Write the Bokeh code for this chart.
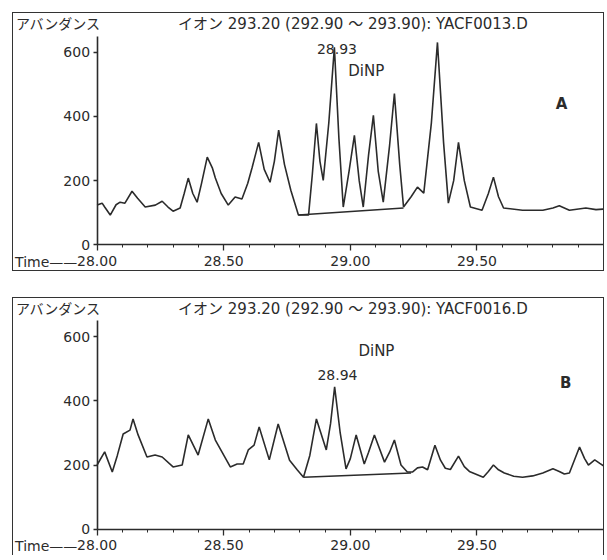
from bokeh.plotting import figure
from bokeh.models import Range1d, FixedTicker, Label, LinearAxis
from bokeh.layouts import column
from bokeh.embed import file_html
from bokeh.resources import INLINE

# ---------------- data ----------------
time_a = [28.000, 28.020, 28.030, 28.052, 28.075, 28.091, 28.110, 28.138, 28.160, 28.190,
          28.230, 28.257, 28.280, 28.300, 28.328, 28.344, 28.360, 28.378, 28.395, 28.412,
          28.435, 28.455, 28.467, 28.490, 28.518, 28.545, 28.572, 28.595, 28.612, 28.638,
          28.660, 28.683, 28.700, 28.717, 28.740, 28.765, 28.795, 28.835, 28.850, 28.866,
          28.880, 28.893, 28.915, 28.937, 28.955, 28.972, 28.995, 29.016, 29.035, 29.051,
          29.072, 29.091, 29.110, 29.130, 29.155, 29.174, 29.195, 29.210, 29.240, 29.265,
          29.290, 29.320, 29.344, 29.368, 29.387, 29.408, 29.427, 29.450, 29.474, 29.520,
          29.545, 29.565, 29.585, 29.605, 29.680, 29.760, 29.800, 29.825, 29.865, 29.930,
          29.970, 30.010]
abund_a = [124, 130, 118, 93, 125, 133, 130, 167, 145, 118,
           124, 136, 118, 105, 115, 160, 208, 160, 133, 190,
           273, 240, 208, 160, 124, 149, 143, 192, 240, 319,
           235, 195, 260, 357, 250, 170, 93, 93, 220, 378,
           260, 201, 380, 615, 330, 118, 230, 341, 200, 118,
           280, 403, 230, 133, 310, 471, 250, 118, 150, 180,
           161, 380, 630, 320, 130, 200, 319, 200, 118, 108,
           160, 211, 150, 115, 108, 108, 115, 122, 108, 115,
           110, 112]

time_b = [28.000, 28.030, 28.060, 28.080, 28.103, 28.130, 28.142, 28.162, 28.197, 28.229,
          28.257, 28.300, 28.336, 28.360, 28.399, 28.439, 28.467, 28.526, 28.553, 28.577,
          28.597, 28.620, 28.640, 28.680, 28.715, 28.760, 28.790, 28.815, 28.840, 28.866,
          28.905, 28.922, 28.938, 28.960, 28.983, 29.000, 29.023, 29.055, 29.072, 29.095,
          29.135, 29.155, 29.174, 29.200, 29.225, 29.245, 29.265, 29.285, 29.305, 29.334,
          29.356, 29.375, 29.395, 29.427, 29.450, 29.470, 29.525, 29.545, 29.565, 29.585,
          29.608, 29.645, 29.680, 29.720, 29.760, 29.800, 29.825, 29.845, 29.865, 29.905,
          29.925, 29.940, 29.965, 29.985, 30.005]
abund_b = [200, 241, 178, 230, 297, 309, 344, 294, 225, 231,
           225, 194, 200, 294, 231, 344, 278, 194, 203, 203,
           247, 262, 319, 216, 328, 215, 185, 162, 230, 344,
           247, 330, 444, 300, 188, 220, 294, 203, 240, 294,
           209, 240, 278, 200, 178, 178, 191, 194, 185, 262,
           215, 190, 186, 228, 195, 180, 162, 180, 200, 185,
           175, 165, 162, 166, 175, 188, 180, 172, 175, 256,
           220, 200, 216, 205, 195]

# integration baselines (start / end)
base_a_t = [28.795, 29.210]
base_a_v = [93, 115]
base_b_t = [28.815, 29.240]
base_b_v = [162, 175]

# peak annotations
peak_a = {"rt": "28.93", "t": 28.947, "v": 611, "name": "DiNP", "nt": 29.063, "nv": 541}
peak_b = {"rt": "28.94", "t": 28.949, "v": 481, "name": "DiNP", "nt": 29.103, "nv": 556}
panel_letters = ["A", "B"]
letter_pos = [(29.834, 438), (29.85, 456)]

titles = ["イオン 293.20 (292.90 ～ 293.90): YACF0013.D",
          "イオン 293.20 (292.90 ～ 293.90): YACF0016.D"]
y_label = "アバンダンス"
x_label = "Time——"

x_ticks = [28.0, 28.5, 29.0, 29.5]
x_tick_labels = ["28.00", "28.50", "29.00", "29.50"]
x_minor = [28.0 + 0.1 * i for i in range(21)]
y_ticks = [0, 200, 400, 600]

FONT = "DejaVu Sans, 'Noto Sans CJK JP', sans-serif"
INK = "#2b2b2b"


def make_panel(t, v, bt, bv, peak, title, letter, lpos, height, top_margin, styles):
    p = figure(width=592, height=height,
               x_range=Range1d(27.670, 30.0075), y_range=Range1d(-85.7, 720),
               x_axis_type=None, y_axis_type=None,
               output_backend="svg", toolbar_location=None,
               min_border=0, styles=styles)
    p.margin = (top_margin, 0, 0, 12)
    p.outline_line_color = None
    p.grid.visible = False
    p.background_fill_color = "white"
    p.border_fill_color = "white"

    p.line(t, v, line_color=INK, line_width=1.6)
    p.line(bt, bv, line_color=INK, line_width=1.6)

    xa = LinearAxis(fixed_location=0, bounds=(28.0, 30.0075),
                    ticker=FixedTicker(ticks=x_ticks, minor_ticks=x_minor))
    xa.major_label_overrides = {k: s for k, s in zip(x_ticks, x_tick_labels)}
    xa.major_tick_out = 6
    xa.major_tick_in = 0
    xa.minor_tick_out = 3
    xa.minor_tick_in = 0
    xa.minor_tick_line_color = INK
    xa.major_label_standoff = 5
    ya = LinearAxis(fixed_location=28.0, bounds=(0, 650),
                    ticker=FixedTicker(ticks=y_ticks, minor_ticks=[]))
    ya.major_tick_out = 4
    ya.major_tick_in = 0
    ya.minor_tick_line_color = None
    ya.major_label_standoff = 3
    for ax in (xa, ya):
        ax.axis_line_color = INK
        ax.axis_line_width = 1.6
        ax.major_tick_line_color = INK
        ax.major_tick_line_width = 1.3
        ax.major_label_text_font = FONT
        ax.major_label_text_font_size = "14px"
        ax.major_label_text_color = INK
    p.add_layout(xa, "below")
    p.add_layout(ya, "left")

    common = dict(text_font=FONT, text_color=INK)
    p.add_layout(Label(x=27.680, y=687, text=y_label, text_baseline="middle",
                       text_font_size="14px", **common))
    p.add_layout(Label(x=29.01, y=687, text=title, text_align="center",
                       text_baseline="middle", text_font_size="15px", **common))
    p.add_layout(Label(x=27.676, y=-52, text=x_label, text_baseline="middle",
                       text_font_size="14px", **common))
    p.add_layout(Label(x=peak["t"], y=peak["v"], text=peak["rt"], text_align="center",
                       text_baseline="middle", text_font_size="14px", **common))
    p.add_layout(Label(x=peak["nt"], y=peak["nv"], text=peak["name"], text_align="center",
                       text_baseline="middle", text_font_size="15px", **common))
    p.add_layout(Label(x=lpos[0], y=lpos[1], text=letter, text_align="center",
                       text_baseline="middle", text_font_size="15px", text_font_style="bold",
                       **common))
    return p


box = "1.5px solid #333333"
pa = make_panel(time_a, abund_a, base_a_t, base_a_v, peak_a, titles[0],
                panel_letters[0], letter_pos[0], 259, 12, {"border": box})
pb = make_panel(time_b, abund_b, base_b_t, base_b_v, peak_b, titles[1],
                panel_letters[1], letter_pos[1], 258, 26,
                {"border-top": box, "border-left": box, "border-right": box})

layout = column(pa, pb, spacing=0)
open("out.html", "w").write(file_html(layout, INLINE))
